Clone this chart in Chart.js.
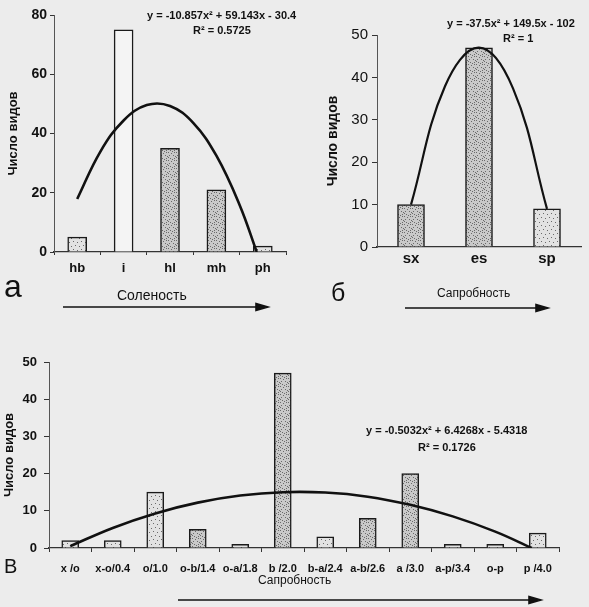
<!DOCTYPE html>
<html>
<head>
<meta charset="utf-8">
<script src="https://cdn.jsdelivr.net/npm/chart.js@4"></script>
<style>
  body { margin: 0; background: #ececec; width: 589px; height: 607px; overflow: hidden; position: relative; font-family: "Liberation Sans", Arial, sans-serif; color: #111; }
  canvas { position: absolute; }
  .t { position: absolute; white-space: nowrap; line-height: 1; }
  .eq { font-weight: bold; font-size: 11px; }
  svg { position: absolute; left: 0; top: 0; }
</style>
</head>
<body>
<canvas id="ca" width="300" height="300" style="left:0;top:0;width:300px;height:300px"></canvas>
<canvas id="cb" width="289" height="300" style="left:300px;top:0;width:289px;height:300px"></canvas>
<canvas id="cc" width="589" height="277" style="left:0;top:330px;width:589px;height:277px"></canvas>

<div class="t eq" style="left:147px;top:10px">y = -10.857x² + 59.143x - 30.4</div>
<div class="t eq" style="left:193px;top:25px">R² = 0.5725</div>
<div class="t eq" style="left:447px;top:18px">y = -37.5x² + 149.5x - 102</div>
<div class="t eq" style="left:503px;top:33px">R² = 1</div>
<div class="t eq" style="left:366px;top:425px">y = -0.5032x² + 6.4268x - 5.4318</div>
<div class="t eq" style="left:418px;top:442px">R² = 0.1726</div>

<div class="t" style="left:4px;top:270px;font-size:32px">а</div>
<div class="t" style="left:331px;top:280px;font-size:25px">б</div>
<div class="t" style="left:4px;top:556px;font-size:20px">В</div>

<div class="t" style="left:117px;top:288px;font-size:14px">Соленость</div>
<div class="t" style="left:437px;top:287px;font-size:12px">Сапробность</div>
<div class="t" style="left:258px;top:574px;font-size:12px">Сапробность</div>

<svg width="589" height="607">
  <g stroke="#111" stroke-width="1.6" fill="#111">
    <line x1="63" y1="307" x2="258" y2="307"/><polygon points="256,303.5 268,307 256,310.5"/>
    <line x1="405" y1="308" x2="538" y2="308"/><polygon points="536,304.5 548,308 536,311.5"/>
    <line x1="178" y1="600" x2="531" y2="600"/><polygon points="529,596.5 541,600 529,603.5"/>
  </g>
</svg>

<script>
// а: соленость
const saltCats = ['hb', 'i', 'hl', 'mh', 'ph'];
const saltCounts = [5, 75, 35, 21, 2];
const saltTrendX = [1, 1.5, 2, 2.5, 3, 3.5, 4, 4.5, 4.87];
const saltTrendY = [17.9, 33.9, 44.4, 49.6, 49.3, 43.6, 32.5, 15.9, 0];
const saltTicks = [0, 20, 40, 60, 80];

// б: сапробность
const sapCats = ['sx', 'es', 'sp'];
const sapCounts = [10, 47, 9];
const sapTrendX = [1, 1.5, 2, 2.5, 3];
const sapTrendY = [10, 37.9, 47, 37.4, 9];
const sapTicks = [0, 10, 20, 30, 40, 50];

// в: сапробность (индексы)
const indCats = ['x /o', 'x-o/0.4', 'o/1.0', 'o-b/1.4', 'o-a/1.8', 'b /2.0', 'b-a/2.4', 'a-b/2.6', 'a /3.0', 'a-p/3.4', 'o-p', 'p /4.0'];
const indCounts = [2, 2, 15, 5, 1, 47, 3, 8, 20, 1, 1, 4];
const indTrendX = [1, 2, 3, 4, 5, 6, 7, 8, 9, 10, 11, 11.86];
const indTrendY = [0.5, 5.4, 9.3, 12.2, 14.1, 15.0, 14.9, 13.8, 11.6, 8.5, 4.4, 0];
const indTicks = [0, 10, 20, 30, 40, 50];

// fill styles per bar
const saltFill = ['light', 'white', 'dense', 'dense', 'light'];
const sapFill = ['dense', 'dense', 'light'];
const indFill = ['light', 'light', 'light', 'dense', 'light', 'dense', 'light', 'dense', 'dense', 'light', 'light', 'light'];

function stipple(base, dots) {
  const c = document.createElement('canvas');
  c.width = 8; c.height = 8;
  const g = c.getContext('2d');
  g.fillStyle = base;
  g.fillRect(0, 0, 8, 8);
  g.fillStyle = '#6a6a6a';
  dots.forEach(d => g.fillRect(d[0], d[1], 1, 1));
  return g.createPattern(c, 'repeat');
}
const fills = {
  white: '#f4f4f4',
  light: stipple('#e2e2e2', [[1, 1], [5, 2], [3, 5], [7, 6]]),
  dense: stipple('#c9c9c9', [[0, 0], [3, 1], [6, 0], [1, 3], [5, 3], [2, 6], [7, 4], [4, 7], [6, 6], [0, 5]])
};

const FONT = '"Liberation Sans", Arial, sans-serif';

function makeChart(id, o) {
  return new Chart(document.getElementById(id), {
    data: {
      labels: o.cats,
      datasets: [{
        type: 'line',
        xAxisID: 'xt',
        data: o.tx.map((x, i) => ({x: x, y: o.ty[i]})),
        borderColor: '#111',
        borderWidth: o.lw,
        pointRadius: 0,
        tension: 0.4,
        fill: false,
        order: 0
      }, {
        type: 'bar',
        data: o.counts,
        backgroundColor: o.fill.map(f => fills[f]),
        borderColor: '#1a1a1a',
        borderWidth: 1.5,
        grouped: false,
        barThickness: o.barW,
        order: 1
      }]
    },
    options: {
      responsive: false,
      animation: false,
      devicePixelRatio: 1,
      layout: {padding: o.pad},
      plugins: {legend: {display: false}, tooltip: {enabled: false}},
      scales: {
        x: {
          type: 'category',
          offset: true,
          grid: {display: true, drawOnChartArea: false, drawTicks: o.xTick > 0, tickLength: o.xTick, color: '#333', offset: true},
          border: {color: '#333', width: 1.2},
          ticks: {color: '#111', padding: o.xPad, maxRotation: 0, autoSkip: false,
            font: {family: FONT, size: o.xFont, weight: 'bold', lineHeight: 1}},
          afterFit: s => { s.height = o.xH; }
        },
        xt: {
          type: 'linear', display: false, min: 0.5, max: o.cats.length + 0.5
        },
        y: {
          min: 0, max: o.ticks[o.ticks.length - 1],
          afterBuildTicks: s => { s.ticks = o.ticks.map(v => ({value: v})); },
          grid: {drawOnChartArea: false, tickLength: o.yTick, color: '#333'},
          border: {color: '#555', width: 1},
          ticks: {color: '#111', padding: o.yPad, font: {family: FONT, size: o.yFont, weight: o.yWeight}},
          title: {display: true, text: 'Число видов', color: '#111', padding: {top: o.tPad, bottom: 0},
            font: {family: FONT, size: o.tFont, weight: 'bold'}},
          afterFit: s => { s.width = o.yW; }
        }
      }
    }
  });
}

makeChart('ca', {
  cats: saltCats, counts: saltCounts, tx: saltTrendX, ty: saltTrendY, ticks: saltTicks, fill: saltFill,
  lw: 2.6, barW: 19, pad: {top: 15, right: 14, left: 0, bottom: 0},
  xTick: 3, xPad: 7, xFont: 13, xH: 48,
  yTick: 4, yPad: 3, yFont: 14, yWeight: 'bold', yW: 54, tPad: 6, tFont: 13
});

makeChart('cb', {
  cats: sapCats, counts: sapCounts, tx: sapTrendX, ty: sapTrendY, ticks: sapTicks, fill: sapFill,
  lw: 2.2, barW: 27, pad: {top: 35, right: 8, left: 0, bottom: 0},
  xTick: 0, xPad: 4, xFont: 15, xH: 53,
  yTick: 5, yPad: 4, yFont: 15, yWeight: 'normal', yW: 77, tPad: 25, tFont: 14
});

makeChart('cc', {
  cats: indCats, counts: indCounts, tx: indTrendX, ty: indTrendY, ticks: indTicks, fill: indFill,
  lw: 2.6, barW: 17, pad: {top: 32, right: 30, left: 0, bottom: 0},
  xTick: 4, xPad: 11, xFont: 11, xH: 59,
  yTick: 5, yPad: 7, yFont: 13, yWeight: 'bold', yW: 49, tPad: 2, tFont: 13
});
</script>
</body>
</html>
